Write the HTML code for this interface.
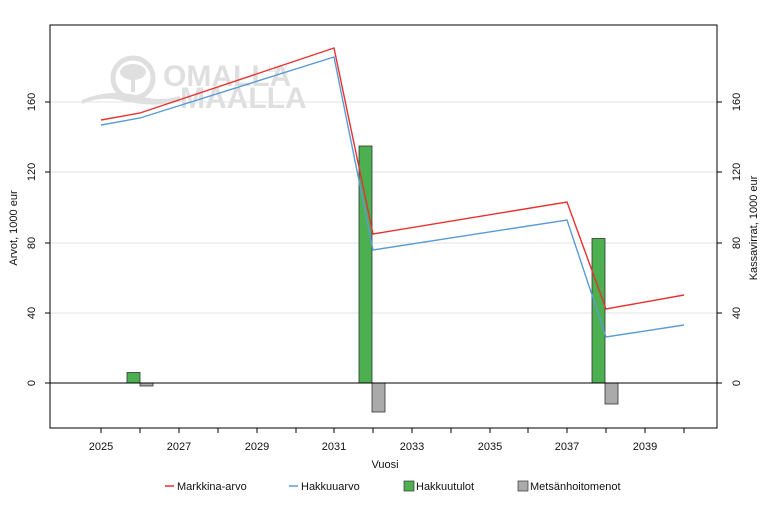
<!DOCTYPE html>
<html><head><meta charset="utf-8"><style>
html,body{margin:0;padding:0;background:#fff;}
svg{display:block;font-family:"Liberation Sans",sans-serif;}
</style></head><body>
<svg width="768" height="512" viewBox="0 0 768 512" xmlns="http://www.w3.org/2000/svg">
<g opacity="0.3" fill="#999">
<circle cx="133" cy="78" r="20" fill="none" stroke="#999" stroke-width="5"/>
<ellipse cx="133" cy="72" rx="13" ry="8"/>
<rect x="131" y="74" width="4" height="18"/>
<path d="M82 100 Q110 88 140 96 Q160 102 180 96 L180 102 Q150 108 120 100 Q100 96 82 104Z"/>
<text x="163" y="86" font-size="30" font-weight="bold">OMALLA</text>
<text x="268" y="72" font-size="10">LKV</text>
<text x="180" y="108" font-size="30" font-weight="bold">MAALLA</text>
</g>
<g stroke="#e3e3e3" stroke-width="1">
<line x1="50" x2="717" y1="313" y2="313"/>
<line x1="50" x2="717" y1="243" y2="243"/>
<line x1="50" x2="717" y1="172" y2="172"/>
<line x1="50" x2="717" y1="102" y2="102"/>
</g>
<g stroke="#333" stroke-width="0.8">
<rect x="127" y="372.5" width="13" height="10.5" fill="#4caf50"/>
<rect x="140" y="383" width="13" height="3" fill="#aaa"/>
<rect x="359" y="146" width="13" height="237" fill="#4caf50"/>
<rect x="372" y="383" width="13" height="29" fill="#aaa"/>
<rect x="592" y="238.5" width="13" height="144.5" fill="#4caf50"/>
<rect x="605" y="383" width="13" height="21" fill="#aaa"/>
</g>
<line x1="50" x2="717" y1="383" y2="383" stroke="#000" stroke-width="1"/>
<polyline fill="none" stroke="#e8312f" stroke-width="1.4" points="101,120 140,113 334,48 373,234 567,202 606,309 684,295"/>
<polyline fill="none" stroke="#5b9bd5" stroke-width="1.4" points="101,125 140,118 334,57 373,250 567,220 606,337 684,325"/>
<rect x="50" y="25" width="667" height="403" fill="none" stroke="#000" stroke-width="1"/>
<g stroke="#000">
<line x1="45" x2="50" y1="383" y2="383"/><line x1="45" x2="50" y1="313" y2="313"/><line x1="45" x2="50" y1="243" y2="243"/><line x1="45" x2="50" y1="172" y2="172"/><line x1="45" x2="50" y1="102" y2="102"/>
<line x1="717" x2="722" y1="383" y2="383"/><line x1="717" x2="722" y1="313" y2="313"/><line x1="717" x2="722" y1="243" y2="243"/><line x1="717" x2="722" y1="172" y2="172"/><line x1="717" x2="722" y1="102" y2="102"/>
</g>
<g font-size="11" fill="#111" text-anchor="middle">
<text transform="translate(35,383) rotate(-90)">0</text>
<text transform="translate(35,313) rotate(-90)">40</text>
<text transform="translate(35,243) rotate(-90)">80</text>
<text transform="translate(35,172) rotate(-90)">120</text>
<text transform="translate(35,102) rotate(-90)">160</text>
<text transform="translate(740,383) rotate(-90)">0</text>
<text transform="translate(740,313) rotate(-90)">40</text>
<text transform="translate(740,243) rotate(-90)">80</text>
<text transform="translate(740,172) rotate(-90)">120</text>
<text transform="translate(740,102) rotate(-90)">160</text>
<text transform="translate(17,228) rotate(-90)">Arvot, 1000 eur</text>
<text transform="translate(757,228) rotate(-90)">Kassavirrat, 1000 eur</text>
</g>
<g stroke="#000">
<line x1="101" x2="101" y1="428" y2="433"/><line x1="140" x2="140" y1="428" y2="433"/><line x1="179" x2="179" y1="428" y2="433"/><line x1="218" x2="218" y1="428" y2="433"/><line x1="257" x2="257" y1="428" y2="433"/><line x1="296" x2="296" y1="428" y2="433"/><line x1="334" x2="334" y1="428" y2="433"/><line x1="373" x2="373" y1="428" y2="433"/><line x1="412" x2="412" y1="428" y2="433"/><line x1="451" x2="451" y1="428" y2="433"/><line x1="490" x2="490" y1="428" y2="433"/><line x1="528" x2="528" y1="428" y2="433"/><line x1="567" x2="567" y1="428" y2="433"/><line x1="606" x2="606" y1="428" y2="433"/><line x1="645" x2="645" y1="428" y2="433"/><line x1="684" x2="684" y1="428" y2="433"/>
</g>
<g font-size="11" fill="#111" text-anchor="middle">
<text x="101" y="450">2025</text><text x="179" y="450">2027</text><text x="257" y="450">2029</text><text x="334" y="450">2031</text><text x="412" y="450">2033</text><text x="490" y="450">2035</text><text x="567" y="450">2037</text><text x="645" y="450">2039</text>
<text x="385" y="468">Vuosi</text>
</g>
<g font-size="11" fill="#111">
<line x1="165" x2="174" y1="486" y2="486" stroke="#e8312f" stroke-width="1.5"/>
<text x="177" y="490">Markkina-arvo</text>
<line x1="289" x2="298" y1="486" y2="486" stroke="#5b9bd5" stroke-width="1.5"/>
<text x="301" y="490">Hakkuuarvo</text>
<rect x="404" y="481" width="10" height="10" fill="#4caf50" stroke="#333" stroke-width="0.7"/>
<text x="416" y="490">Hakkuutulot</text>
<rect x="518" y="481" width="10" height="10" fill="#aaa" stroke="#333" stroke-width="0.7"/>
<text x="530" y="490">Metsänhoitomenot</text>
</g>
</svg>
</body></html>
